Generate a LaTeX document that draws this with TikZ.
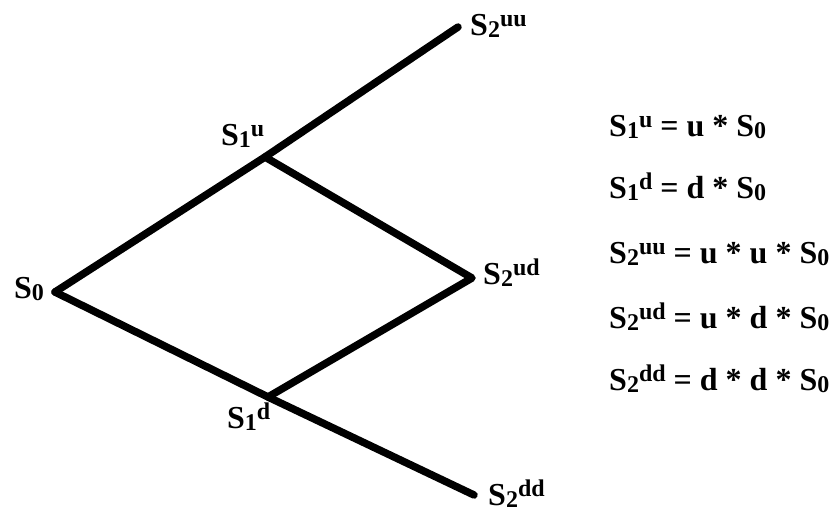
\documentclass[tikz,border=0pt]{standalone}
\usepackage{fontspec}
\setmainfont{Liberation Serif}
% smaller size for the index digits and the u/d marks
\newcommand{\idxsz}{\fontsize{24}{24}\selectfont}
\newcommand{\Sn}[1]{S\raisebox{-2pt}{\idxsz #1}}
\newcommand{\Snm}[2]{S\raisebox{-2pt}{\idxsz #1}\raisebox{9pt}{\idxsz #2}}
\tikzset{
  branch/.style={line width=7.5pt, line cap=round, line join=round},
  lbl/.style={anchor=base west, inner sep=0pt, font=\fontsize{32}{36}\selectfont\bfseries},
}
\begin{document}
\begin{tikzpicture}[x=1pt,y=-1pt]
  \useasboundingbox (0,0) rectangle (830,512);
  % lattice vertices
  \coordinate (s0)   at (55,292);
  \coordinate (s1u)  at (265,157);
  \coordinate (s1d)  at (268,397);
  \coordinate (s2uu) at (458,27);
  \coordinate (s2ud) at (472,278);
  \coordinate (s2dd) at (474,495);
  % branches
  \draw[branch] (s0) -- (s1u) -- (s2uu);
  \draw[branch] (s1u) -- (s2ud) -- (s1d);
  \draw[branch] (s0) -- (s1d) -- (s2dd);
  % vertex labels
  \node[lbl] (l0)   at (14,298)  {\Sn{0}};
  \node[lbl] (l1u)  at (221,145) {\Snm{1}{u}};
  \node[lbl] (l1d)  at (227,428) {\Snm{1}{d}};
  \node[lbl] (l2uu) at (470,35)  {\Snm{2}{uu}};
  \node[lbl] (l2ud) at (483,284) {\Snm{2}{ud}};
  \node[lbl] (l2dd) at (488,505) {\Snm{2}{dd}};
  % formulas
  \node[lbl] (e1) at (609,136) {\Snm{1}{u} = u * \Sn{0}};
  \node[lbl] (e2) at (609,198) {\Snm{1}{d} = d * \Sn{0}};
  \node[lbl] (e3) at (609,263) {\Snm{2}{uu} = u * u * \Sn{0}};
  \node[lbl] (e4) at (609,328) {\Snm{2}{ud} = u * d * \Sn{0}};
  \node[lbl] (e5) at (609,390) {\Snm{2}{dd} = d * d * \Sn{0}};
\end{tikzpicture}
\end{document}
